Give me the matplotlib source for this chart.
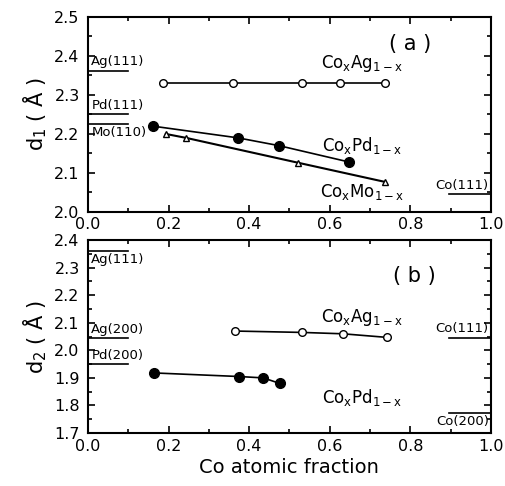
import numpy as np
import matplotlib
matplotlib.use("Agg")
import matplotlib.pyplot as plt
from matplotlib.ticker import MultipleLocator

# panel (a): d1 spacing
x_ag_a = [0.186, 0.36, 0.53, 0.625, 0.737]
d_ag_a = [2.33, 2.33, 2.33, 2.33, 2.33]
x_pd_a = [0.161, 0.372, 0.474, 0.648]
d_pd_a = [2.22, 2.19, 2.17, 2.128]
x_mo_a = [0.193, 0.243, 0.522, 0.737]
d_mo_a = [2.20, 2.19, 2.126, 2.077]

# panel (b): d2 spacing
x_ag_b = [0.365, 0.531, 0.633, 0.742]
d_ag_b = [2.07, 2.065, 2.06, 2.047]
x_pd_b = [0.164, 0.375, 0.435, 0.476]
d_pd_b = [1.918, 1.905, 1.90, 1.88]

# bulk reference spacings (label, d, side, label above?)
refs_a = [("Ag(111)", 2.362, "left", True),
          ("Pd(111)", 2.251, "left", True),
          ("Mo(110)", 2.226, "left", False),
          ("Co(111)", 2.046, "right", True)]
refs_b = [("Ag(111)", 2.361, "left", False),
          ("Ag(200)", 2.044, "left", True),
          ("Pd(200)", 1.950, "left", True),
          ("Co(111)", 2.046, "right", True),
          ("Co(200)", 1.774, "right", False)]

plt.rcParams["font.family"] = "DejaVu Sans"
fig = plt.figure(figsize=(5.06, 4.86), dpi=100)
ax1 = fig.add_axes([0.174, 0.564, 0.796, 0.401])
ax2 = fig.add_axes([0.174, 0.109, 0.796, 0.397])


def draw_refs(ax, refs, yr):
    off = 0.012 * yr
    for name, d, side, above in refs:
        if side == "left":
            ax.plot([0, 0.1], [d, d], color="black", lw=1.2)
            tx, ha = 0.008, "left"
        else:
            ax.plot([0.895, 1.0], [d, d], color="black", lw=1.2)
            tx, ha = 0.995, "right"
        ty = d + off if above else d - off
        ax.text(tx, ty, name, ha=ha, va="bottom" if above else "top",
                fontsize=9.5)


def style(ax, ymin, ymax):
    ax.set_xlim(0, 1)
    ax.set_ylim(ymin, ymax)
    ax.xaxis.set_major_locator(MultipleLocator(0.2))
    ax.xaxis.set_minor_locator(MultipleLocator(0.1))
    ax.yaxis.set_major_locator(MultipleLocator(0.1))
    ax.yaxis.set_minor_locator(MultipleLocator(0.05))
    ax.tick_params(which="both", direction="in", top=True, right=True,
                   labelsize=11.5, width=1.2)
    ax.tick_params(which="major", length=5)
    ax.tick_params(which="minor", length=3)
    ax.tick_params(axis="x", pad=4)
    ax.tick_params(axis="y", pad=6)
    ax.xaxis.set_major_formatter(plt.FormatStrFormatter("%.1f"))
    ax.yaxis.set_major_formatter(plt.FormatStrFormatter("%.1f"))
    for s in ax.spines.values():
        s.set_linewidth(1.5)


ax1.plot(x_ag_a, d_ag_a, "-o", color="black", mfc="white", ms=5.5, lw=1.2)
ax1.plot(x_pd_a, d_pd_a, "-o", color="black", mfc="black", ms=7, lw=1.2)
ax1.plot(x_mo_a, d_mo_a, "-^", color="black", mfc="white", ms=5, lw=1.5)
draw_refs(ax1, refs_a, 0.5)
style(ax1, 2.0, 2.5)
ax1.text(0.80, 2.43, "( a )", ha="center", va="center", fontsize=15)
ax1.text(0.68, 2.38, r"Co$_\mathrm{x}$Ag$_\mathrm{1-x}$", ha="center", va="center", fontsize=12)
ax1.text(0.68, 2.17, r"Co$_\mathrm{x}$Pd$_\mathrm{1-x}$", ha="center", va="center", fontsize=12)
ax1.text(0.68, 2.05, r"Co$_\mathrm{x}$Mo$_\mathrm{1-x}$", ha="center", va="center", fontsize=12)
ax1.set_ylabel(r"d$_1$ ( $\mathrm{\AA}$ )", fontsize=15, labelpad=4)

ax2.plot(x_ag_b, d_ag_b, "-o", color="black", mfc="white", ms=5.5, lw=1.2)
ax2.plot(x_pd_b, d_pd_b, "-o", color="black", mfc="black", ms=7, lw=1.2)
draw_refs(ax2, refs_b, 0.7)
style(ax2, 1.7, 2.4)
ax2.text(0.81, 2.27, "( b )", ha="center", va="center", fontsize=15)
ax2.text(0.68, 2.12, r"Co$_\mathrm{x}$Ag$_\mathrm{1-x}$", ha="center", va="center", fontsize=12)
ax2.text(0.68, 1.83, r"Co$_\mathrm{x}$Pd$_\mathrm{1-x}$", ha="center", va="center", fontsize=12)
ax2.set_ylabel(r"d$_2$ ( $\mathrm{\AA}$ )", fontsize=15, labelpad=4)
ax2.set_xlabel("Co atomic fraction", fontsize=14, labelpad=3)

fig.savefig("out.png", dpi=100)
